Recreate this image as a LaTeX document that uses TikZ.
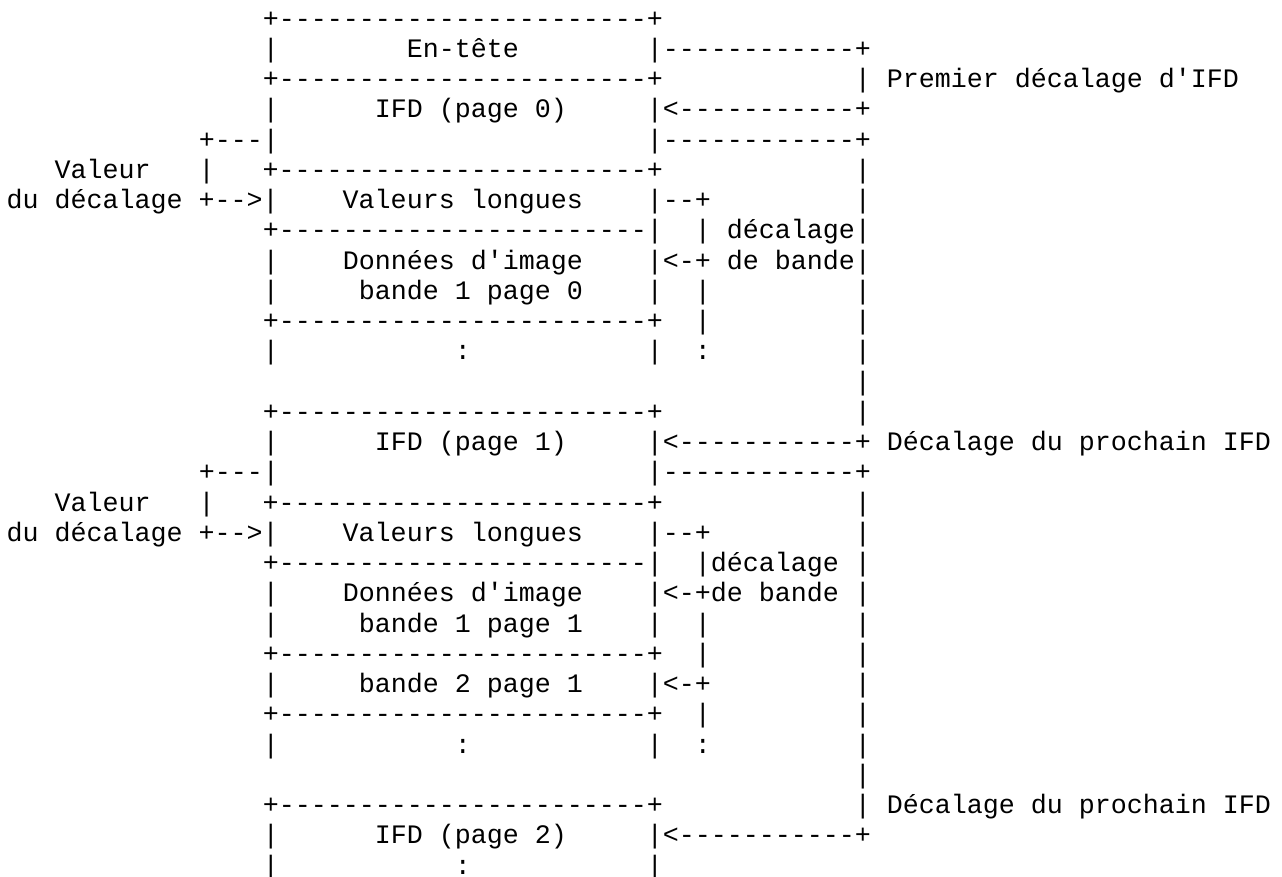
\documentclass[tikz,border=0pt]{standalone}
\usepackage{fontspec}
\setmonofont{Liberation Mono}
\ExplSyntaxOn
\cs_new:Npn \asciirep #1#2 { \prg_replicate:nn {#1} {#2} }
\ExplSyntaxOff
\newcommand\SP[1]{\kern#1\fontdimen2\font\relax}
\newcommand\DA[1]{\asciirep{#1}{-}}
\tikzset{
  ascii/.style={anchor=base west, inner sep=0pt, outer sep=0pt, text=black,
    font=\ttfamily\fontsize{26.67}{30.25}\selectfont}
}
\newcommand\Ln[2]{\node[ascii] (l#1) at (6.7,{27+(#1-1)*30.25}) {#2};}
\begin{document}
\begin{tikzpicture}[x=1pt,y=-1pt]
\fill[white] (0,0) rectangle (1282,876);
\useasboundingbox (0,0) rectangle (1282,876);
\Ln{1}{\SP{16}+\DA{23}+}
\Ln{2}{\SP{16}|\SP{8}En-tête\SP{8}|\DA{12}+}
\Ln{3}{\SP{16}+\DA{23}+\SP{12}| Premier décalage d'IFD}
\Ln{4}{\SP{16}|\SP{6}IFD (page 0)\SP{5}|<\DA{11}+}
\Ln{5}{\SP{12}+\DA{3}|\SP{23}|\DA{12}+}
\Ln{6}{\SP{3}Valeur\SP{3}|\SP{3}+\DA{23}+\SP{12}|}
\Ln{7}{du décalage +\DA{2}>|\SP{4}Valeurs longues\SP{4}|\DA{2}+\SP{9}|}
\Ln{8}{\SP{16}+\DA{23}|\SP{2}| décalage|}
\Ln{9}{\SP{16}|\SP{4}Données d'image\SP{4}|<-+ de bande|}
\Ln{10}{\SP{16}|\SP{5}bande 1 page 0\SP{4}|\SP{2}|\SP{9}|}
\Ln{11}{\SP{16}+\DA{23}+\SP{2}|\SP{9}|}
\Ln{12}{\SP{16}|\SP{11}:\SP{11}|\SP{2}:\SP{9}|}
\Ln{13}{\SP{53}|}
\Ln{14}{\SP{16}+\DA{23}+\SP{12}|}
\Ln{15}{\SP{16}|\SP{6}IFD (page 1)\SP{5}|<\DA{11}+ Décalage du prochain IFD}
\Ln{16}{\SP{12}+\DA{3}|\SP{23}|\DA{12}+}
\Ln{17}{\SP{3}Valeur\SP{3}|\SP{3}+\DA{23}+\SP{12}|}
\Ln{18}{du décalage +\DA{2}>|\SP{4}Valeurs longues\SP{4}|\DA{2}+\SP{9}|}
\Ln{19}{\SP{16}+\DA{23}|\SP{2}|décalage\SP{1}|}
\Ln{20}{\SP{16}|\SP{4}Données d'image\SP{4}|<-+de bande\SP{1}|}
\Ln{21}{\SP{16}|\SP{5}bande 1 page 1\SP{4}|\SP{2}|\SP{9}|}
\Ln{22}{\SP{16}+\DA{23}+\SP{2}|\SP{9}|}
\Ln{23}{\SP{16}|\SP{5}bande 2 page 1\SP{4}|<-+\SP{9}|}
\Ln{24}{\SP{16}+\DA{23}+\SP{2}|\SP{9}|}
\Ln{25}{\SP{16}|\SP{11}:\SP{11}|\SP{2}:\SP{9}|}
\Ln{26}{\SP{53}|}
\Ln{27}{\SP{16}+\DA{23}+\SP{12}| Décalage du prochain IFD}
\Ln{28}{\SP{16}|\SP{6}IFD (page 2)\SP{5}|<\DA{11}+}
\Ln{29}{\SP{16}|\SP{11}:\SP{11}|}
\end{tikzpicture}
\end{document}
